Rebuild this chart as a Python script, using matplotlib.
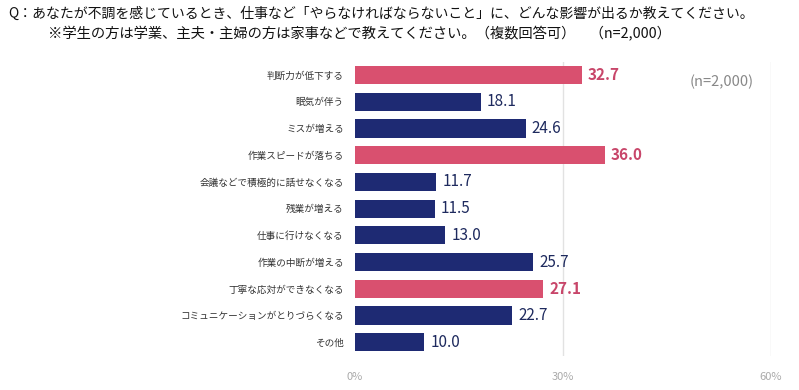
import matplotlib.pyplot as plt

plt.rcParams['font.family'] = ['Noto Sans CJK JP', 'DejaVu Sans']

# Data
categories = [
    '判断力が低下する', '眠気が伴う', 'ミスが増える', '作業スピードが落ちる',
    '会議などで積極的に話せなくなる', '残業が増える', '仕事に行けなくなる',
    '作業の中断が増える', '丁寧な応対ができなくなる',
    'コミュニケーションがとりづらくなる', 'その他',
]
values = [32.7, 18.1, 24.6, 36.0, 11.7, 11.5, 13.0, 25.7, 27.1, 22.7, 10.0]
highlight = [True, False, False, True, False, False, False, False, True, False, False]
ticks = [0, 30, 60]

pink = '#D9506F'
navy = '#1E2A73'
pink_text = '#C8466A'
navy_text = '#1E2A5E'

fig = plt.figure(figsize=(7.99, 3.90), dpi=100)
ax = fig.add_axes([0.4443, 0.088, 0.5207, 0.754])

y = list(range(len(categories)))
colors = [pink if h else navy for h in highlight]
ax.barh(y, values, height=0.68, color=colors, zorder=3)

for yi, v, h in zip(y, values, highlight):
    ax.text(v + 0.9, yi, f'{v:.1f}', va='center', ha='left',
            fontsize=11, color=pink_text if h else navy_text,
            fontweight='bold' if h else 'normal')

ax.set_xlim(0, 60)
ax.set_ylim(len(categories) - 0.5, -0.5)
ax.set_yticks(y)
ax.set_yticklabels(categories, fontsize=6.9, color='#333333')
ax.set_xticks(ticks)
ax.set_xticklabels([f'{t}%' for t in ticks], fontsize=8, color='#AAAAAA')
ax.tick_params(axis='both', length=0)
ax.tick_params(axis='y', pad=8)
ax.tick_params(axis='x', pad=12)
for s in ax.spines.values():
    s.set_visible(False)
for t in ticks[1:]:
    ax.axvline(t, color='#E2E2E2', linewidth=1, zorder=1)

ax.text(0.882, 0.93, '(n=2,000)', transform=ax.transAxes, ha='center',
        va='center', fontsize=10.5, color='#888888')

fig.text(0.01, 0.965, 'Q：あなたが不調を感じているとき、仕事など「やらなければならないこと」に、どんな影響が出るか教えてください。',
         fontsize=10, va='center', ha='left', color='#111111')
fig.text(0.06, 0.913, '※学生の方は学業、主夫・主婦の方は家事などで教えてください。（複数回答可）　（n=2,000）',
         fontsize=10.3, va='center', ha='left', color='#111111')

fig.savefig('out.png', dpi=100, facecolor='white')
